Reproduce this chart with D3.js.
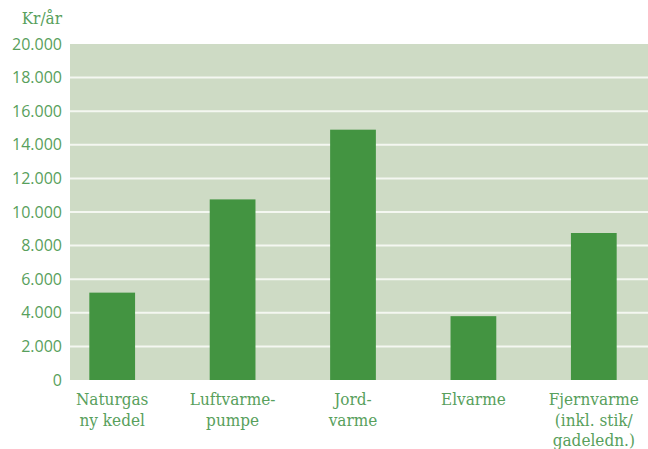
<!DOCTYPE html>
<html><head><meta charset="utf-8">
<script src="https://cdn.jsdelivr.net/npm/d3@7"></script>
<style>body{margin:0;background:#fff}svg{display:block}</style>
</head><body>
<svg id="c" width="648" height="449"></svg>
<script>
const categories = [["Naturgas","ny kedel"],["Luftvarme-","pumpe"],["Jord-","varme"],["Elvarme"],["Fjernvarme","(inkl. stik/","gadeledn.)"]];
const values = [5200, 10750, 14900, 3800, 8750];
const yTicks = [0,2000,4000,6000,8000,10000,12000,14000,16000,18000,20000];
const unitLabel = "Kr/år";

(function(){
const svg = d3.select("#c");
const pLeft = 70, pRight = 648, pTop = 44, pBottom = 380;
const textColor = "#58a05c";
const serif = "'DejaVu Serif Condensed', 'DejaVu Serif', serif";
const y = d3.scaleLinear().domain([0,20000]).range([pBottom, pTop]);
const x = d3.scaleBand().domain(d3.range(categories.length)).range([52, 654]).paddingInner(0.62).paddingOuter(0.31);

svg.append("rect").attr("x",pLeft).attr("y",pTop).attr("width",pRight-pLeft).attr("height",pBottom-pTop).attr("fill","#cedbc5");
svg.append("g").selectAll("line").data(yTicks.filter(d=>d>0 && d<20000)).join("line")
  .attr("x1",pLeft).attr("x2",pRight).attr("y1",d=>y(d)).attr("y2",d=>y(d))
  .attr("stroke","#f4f7f1").attr("stroke-width",2);

const fmt = d => d===0 ? "0" : d3.format(",")(d).replace(/,/g,".");
const yAxis = d3.axisLeft(y).tickValues(yTicks).tickFormat(fmt).tickSize(0).tickPadding(8);
const gy = svg.append("g").attr("transform",`translate(${pLeft},0)`).call(yAxis);
gy.select(".domain").remove();
gy.selectAll("text").attr("fill",textColor).style("font-family","'Open Sans', sans-serif").style("font-size","16px");

svg.append("g").selectAll("rect").data(values).join("rect")
  .attr("x",(d,i)=>x(i)).attr("width",x.bandwidth())
  .attr("y",d=>y(d)).attr("height",d=>pBottom-y(d)).attr("fill","#439441");

const lab = svg.append("g").selectAll("text").data(categories).join("text")
  .attr("text-anchor","middle").attr("fill",textColor)
  .style("font-family",serif).style("font-size","17px");
lab.selectAll("tspan").data((d,i)=>d.map(s=>({s,i}))).join("tspan")
  .attr("x",d=>x(d.i)+x.bandwidth()/2).attr("y",(d,j)=>405+j*20.5).text(d=>d.s);

svg.append("text").attr("x",62).attr("y",24).attr("text-anchor","end").attr("fill",textColor)
  .style("font-family",serif).style("font-size","17px").text(unitLabel);
})();
</script>
</body></html>
